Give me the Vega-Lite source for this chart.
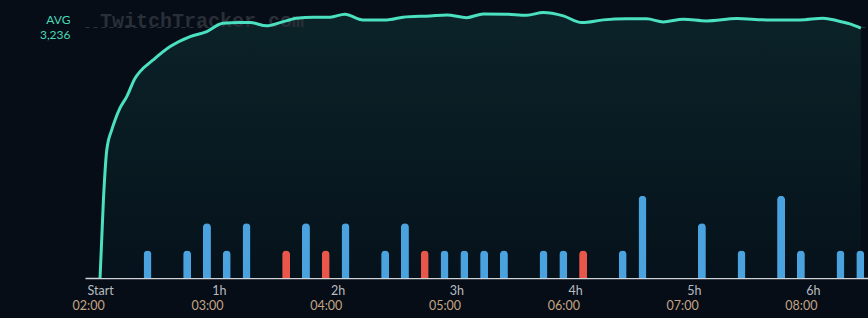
{
  "$schema": "https://vega.github.io/schema/vega-lite/v6.json",
  "width": 783,
  "height": 278,
  "autosize": {"type": "none"},
  "padding": {"left": 85, "top": 0, "right": 0, "bottom": 40},
  "background": "#060d17",
  "config": {
    "view": {"stroke": null},
    "font": "Lato",
    "axis": {"labelFont": "Lato", "grid": false, "ticks": false}
  },
  "datasets": {
    "viewers": [
      {"t": 0, "v": 0}, {"t": 1.7, "v": 1005}, {"t": 3.4, "v": 1649}, {"t": 5.9, "v": 1907},
      {"t": 7.6, "v": 2035}, {"t": 10.1, "v": 2190}, {"t": 13.5, "v": 2336}, {"t": 17.7, "v": 2573},
      {"t": 20.2, "v": 2658}, {"t": 26.8, "v": 2808}, {"t": 35.4, "v": 2980}, {"t": 45.5, "v": 3109},
      {"t": 53.9, "v": 3173}, {"t": 62.1, "v": 3281}, {"t": 70.7, "v": 3289}, {"t": 75.8, "v": 3289},
      {"t": 84.2, "v": 3247}, {"t": 90.9, "v": 3289}, {"t": 99.3, "v": 3346}, {"t": 107.6, "v": 3359},
      {"t": 116.2, "v": 3359}, {"t": 123.7, "v": 3397}, {"t": 132.8, "v": 3324}, {"t": 144.8, "v": 3324},
      {"t": 153, "v": 3359}, {"t": 166.7, "v": 3375}, {"t": 175.1, "v": 3388}, {"t": 185.2, "v": 3353},
      {"t": 193.6, "v": 3401}, {"t": 205.4, "v": 3397}, {"t": 215.5, "v": 3384}, {"t": 223.9, "v": 3418},
      {"t": 234, "v": 3375}, {"t": 243.3, "v": 3289}, {"t": 254.2, "v": 3324}, {"t": 266, "v": 3337},
      {"t": 276.1, "v": 3337}, {"t": 284.5, "v": 3298}, {"t": 294.6, "v": 3333}, {"t": 306.4, "v": 3311},
      {"t": 321.6, "v": 3341}, {"t": 336.7, "v": 3324}, {"t": 353.5, "v": 3324}, {"t": 365.3, "v": 3346},
      {"t": 372.1, "v": 3315}, {"t": 378.8, "v": 3272}, {"t": 384.3, "v": 3217}
    ],
    "events": [
      {"t": 24, "n": 1, "kind": "blue"}, {"t": 44, "n": 1, "kind": "blue"}, {"t": 54, "n": 2, "kind": "blue"},
      {"t": 64, "n": 1, "kind": "blue"}, {"t": 74, "n": 2, "kind": "blue"}, {"t": 94, "n": 1, "kind": "red"},
      {"t": 104, "n": 2, "kind": "blue"}, {"t": 114, "n": 1, "kind": "red"}, {"t": 124, "n": 2, "kind": "blue"},
      {"t": 144, "n": 1, "kind": "blue"}, {"t": 154, "n": 2, "kind": "blue"}, {"t": 164, "n": 1, "kind": "red"},
      {"t": 174, "n": 1, "kind": "blue"}, {"t": 184, "n": 1, "kind": "blue"}, {"t": 194, "n": 1, "kind": "blue"},
      {"t": 204, "n": 1, "kind": "blue"}, {"t": 224, "n": 1, "kind": "blue"}, {"t": 234, "n": 1, "kind": "blue"},
      {"t": 244, "n": 1, "kind": "red"}, {"t": 264, "n": 1, "kind": "blue"}, {"t": 274, "n": 3, "kind": "blue"},
      {"t": 304, "n": 2, "kind": "blue"}, {"t": 324, "n": 1, "kind": "blue"}, {"t": 344, "n": 3, "kind": "blue"},
      {"t": 354, "n": 1, "kind": "blue"}, {"t": 374, "n": 1, "kind": "blue"}, {"t": 384, "n": 1, "kind": "blue"}
    ],
    "mark": [
      {"t": 0, "v": 3234, "label": "TwitchTracker.com"}
    ]
  },
  "layer": [
    {
      "data": {"name": "viewers"},
      "mark": {
        "type": "area",
        "interpolate": "monotone",
        "color": {
          "x1": 0, "y1": 0, "x2": 0, "y2": 1,
          "gradient": "linear",
          "stops": [
            {"offset": 0, "color": "#0b2328"},
            {"offset": 1, "color": "#06121b"}
          ]
        }
      },
      "encoding": {
        "x": {
          "field": "t", "type": "quantitative",
          "scale": {"domain": [-7.6, 387.9], "nice": false, "zero": false, "padding": 0},
          "axis": {
            "title": null,
            "values": [0, 60, 120, 180, 240, 300, 360],
            "labelExpr": "datum.value == 0 ? 'Start' : (datum.value / 60) + 'h'",
            "domain": true,
            "domainColor": "#cfd3d6",
            "domainWidth": 1.5,
            "labelColor": "#b9bcc0",
            "labelFontSize": 12.5,
            "labelPadding": 6,
            "labelBaseline": "top",
            "orient": "bottom"
          }
        },
        "y": {
          "field": "v", "type": "quantitative",
          "scale": {"domain": [0, 3580], "nice": false},
          "axis": {
            "title": null,
            "values": [3236],
            "labelExpr": "['AVG', format(datum.value, ',')]",
            "labelColor": "#4ad8b8",
            "labelFontSize": 12,
            "labelLineHeight": 15,
            "labelPadding": 15,
            "labelOffset": -7,
            "domain": false,
            "grid": true,
            "gridColor": "#2a333d",
            "gridDash": [4, 4],
            "gridWidth": 1
          }
        }
      }
    },
    {
      "data": {"name": "mark"},
      "mark": {
        "type": "text",
        "font": "Liberation Mono",
        "fontWeight": "bold",
        "fontSize": 20,
        "align": "left",
        "baseline": "alphabetic",
        "color": "#2a2f37"
      },
      "encoding": {
        "x": {"field": "t", "type": "quantitative", "scale": {"domain": [-7.6, 387.9], "nice": false, "zero": false, "padding": 0}, "axis": null},
        "y": {"field": "v", "type": "quantitative", "scale": {"domain": [0, 3580], "nice": false}, "axis": null},
        "text": {"field": "label"}
      }
    },
    {
      "data": {"name": "viewers"},
      "mark": {"type": "line", "interpolate": "monotone", "color": "#4ae0c0", "strokeWidth": 3},
      "encoding": {
        "x": {"field": "t", "type": "quantitative", "scale": {"domain": [-7.6, 387.9], "nice": false, "zero": false, "padding": 0}, "axis": null},
        "y": {"field": "v", "type": "quantitative", "scale": {"domain": [0, 3580], "nice": false}, "axis": null}
      }
    },
    {
      "data": {"name": "events"},
      "mark": {"type": "bar", "size": 8, "cornerRadiusTopLeft": 4, "cornerRadiusTopRight": 4},
      "encoding": {
        "x": {
          "field": "t", "type": "quantitative",
          "scale": {"domain": [-7.6, 387.9], "nice": false, "zero": false, "padding": 0},
          "axis": {
            "title": null,
            "orient": "bottom",
            "values": [-6, 54, 114, 174, 234, 294, 354],
            "labelExpr": "'0' + (2 + (datum.value + 6) / 60) + ':00'",
            "domain": false,
            "labelColor": "#c4a584",
            "labelFontSize": 12.5,
            "labelPadding": 21,
            "labelBaseline": "top"
          }
        },
        "y": {
          "field": "n", "type": "quantitative",
          "scale": {"domain": [0, 10.15], "nice": false},
          "axis": null
        },
        "color": {
          "field": "kind", "type": "nominal",
          "scale": {"domain": ["blue", "red"], "range": ["#4aa3df", "#e8574a"]},
          "legend": null
        }
      }
    }
  ],
  "resolve": {
    "scale": {"y": "independent"},
    "axis": {"x": "independent", "y": "independent"}
  }
}
